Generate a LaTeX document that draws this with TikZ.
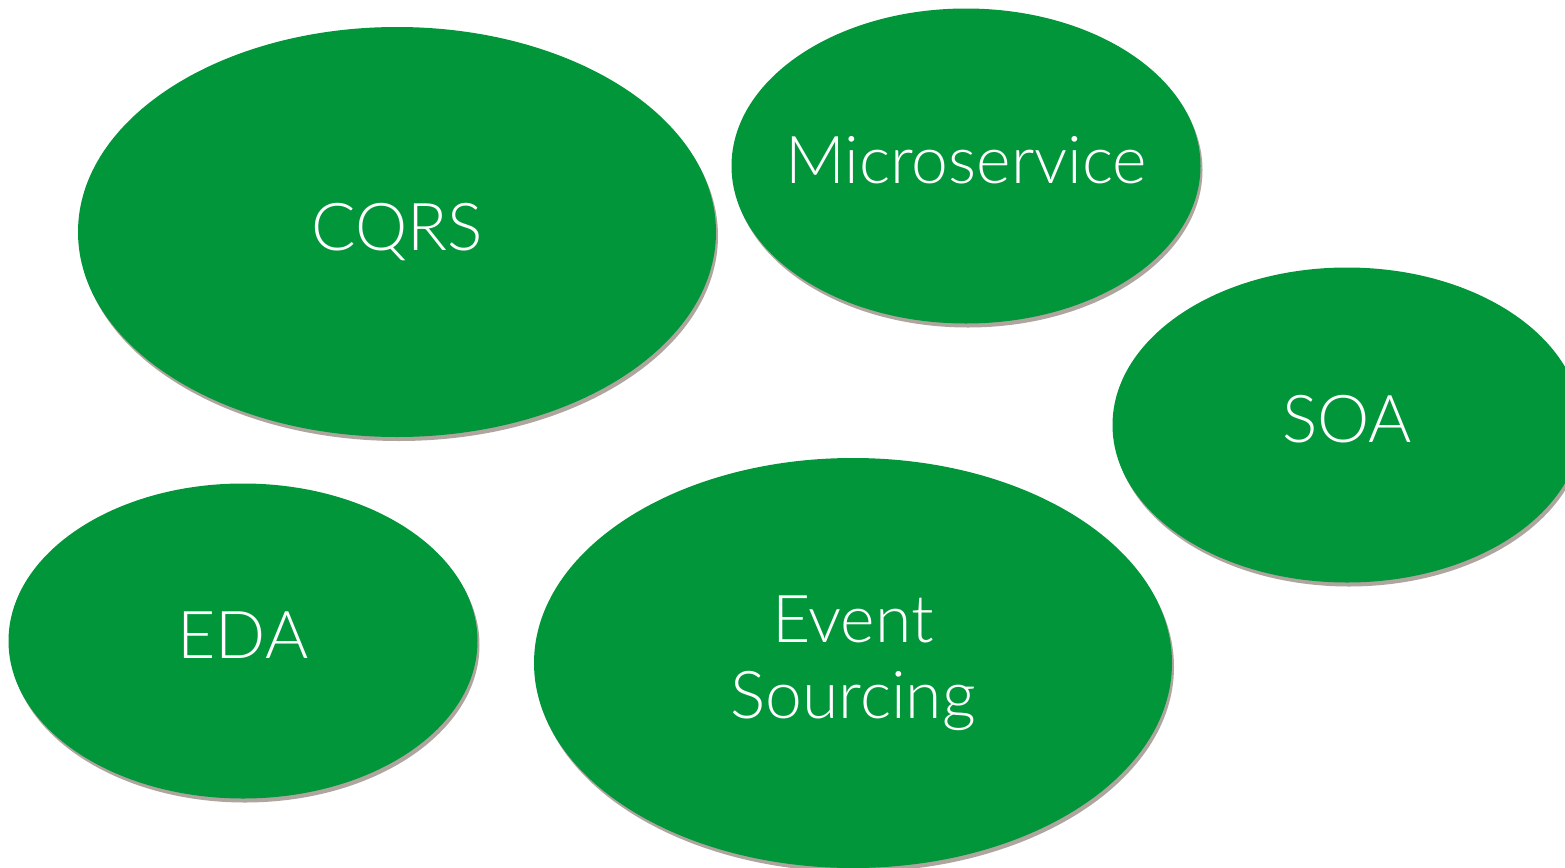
\documentclass[tikz,border=0pt]{standalone}
\usepackage{fontspec}
\setmainfont{Lato Light}
\usetikzlibrary{shapes.geometric,shadows}
\newlength{\du}
\setlength{\du}{0.5pt}
\definecolor{bubblegreen}{RGB}{0,150,57}
\definecolor{bubbleshade}{RGB}{120,105,95}
\tikzset{
  bubble/.style={ellipse, inner sep=0pt, fill=bubblegreen,
    drop shadow={shadow xshift=2\du, shadow yshift=-4\du, fill=bubbleshade, opacity=.6}},
  bubbletext/.style={text=white, font=\fontsize{33}{38}\selectfont, align=center},
}

\begin{document}
\begin{tikzpicture}
\pgftransformyscale{-1.000000}
\clip (0\du,0\du) rectangle (1565\du,868\du);
\fill[white] (0\du,0\du) rectangle (1565\du,868\du);
% big ones
\node[bubble, minimum width=638\du, minimum height=410\du,
  label={[bubbletext]center:CQRS}] (cqrs) at (397\du,232\du) {};
\node[bubble, minimum width=638\du, minimum height=410\du,
  label={[bubbletext]center:Event\\Sourcing}] (es) at (853\du,663\du) {};
% small ones
\node[bubble, minimum width=469\du, minimum height=315\du,
  label={[bubbletext, yshift=6\du]center:Microservice}] (micro) at (966\du,166\du) {};
\node[bubble, minimum width=469\du, minimum height=315\du,
  label={[bubbletext, yshift=6\du]center:SOA}] (soa) at (1347\du,425\du) {};
\node[bubble, minimum width=469\du, minimum height=315\du,
  label={[bubbletext, yshift=6\du]center:EDA}] (eda) at (243\du,641\du) {};
\end{tikzpicture}
\end{document}
